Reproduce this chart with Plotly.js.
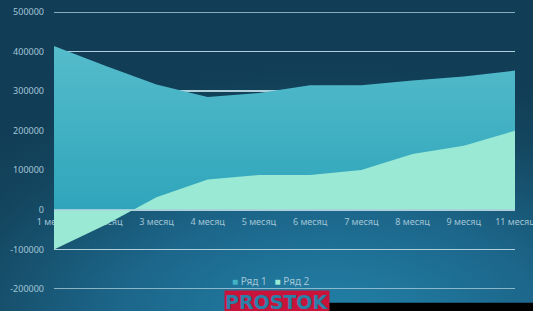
<!DOCTYPE html>
<html>
<head>
<meta charset="utf-8">
<script src="https://cdn.plot.ly/plotly-3.0.1.min.js"></script>
<style>
html, body { margin:0; padding:0; width:533px; height:311px; overflow:hidden;
  background: radial-gradient(ellipse 90% 85% at 62% 105%, #2383aa 0%, #1c668a 45%, #14465f 80%, #113d56 100%); }
#chart { width:533px; height:311px; }
</style>
</head>
<body>
<div id="chart"></div>
<script>
const categories = ["1 месяц","2 месяц","3 месяц","4 месяц","5 месяц","6 месяц","7 месяц","8 месяц","9 месяц","11 месяц"];
const series1 = [414000, 364000, 317000, 285000, 295000, 315000, 315000, 327000, 337000, 352000];
const series2 = [-100000, -38000, 32000, 77000, 88000, 88000, 101000, 141000, 162000, 200000];
const seriesNames = ["Ряд 1", "Ряд 2"];
const yTickVals = [-200000, -100000, 0, 100000, 200000, 300000, 400000, 500000];
const yTickText = ["-200000", "-100000", "0", "100000", "200000", "300000", "400000", "500000"];

const labelColor = "#a2c6d6";
const gridColor = "#b0d0dc";
const seriesColors = ["#43b4c6", "#9ae9d4"];

const traces = [
  {
    type: "scatter", mode: "none", name: seriesNames[0], showlegend: false,
    x: categories, y: series1, fill: "tozeroy",
    fillcolor: seriesColors[0],
    fillgradient: { type: "vertical", colorscale: [[0, "#2fa5bb"], [1, "#55bccb"]] }
  },
  {
    type: "scatter", mode: "none", name: seriesNames[1], showlegend: false,
    x: categories, y: series2, fill: "tozeroy",
    fillcolor: seriesColors[1]
  }
];

// legend drawn as a single text line with coloured squares
const legendText = seriesNames.map((n, i) =>
  '<span style="color:' + seriesColors[i] + '">■</span> ' + n).join('   ');

const layout = {
  width: 533, height: 311,
  margin: { l: 54, r: 18, t: 12, b: 22, pad: 0 },
  paper_bgcolor: "rgba(0,0,0,0)",
  plot_bgcolor: "rgba(0,0,0,0)",
  font: { family: "Noto Sans, sans-serif", size: 9, color: labelColor },
  showlegend: false,
  xaxis: {
    type: "category", range: [0, 9],
    anchor: "free", position: 2 / 7,
    showgrid: false, zeroline: false, showline: false,
    ticks: "inside", ticklen: 3, tickcolor: gridColor, tickwidth: 1,
    ticklabelstandoff: 5,
    tickfont: { size: 9, color: labelColor },
    layer: "below traces", fixedrange: true
  },
  yaxis: {
    range: [-200000, 500000],
    tickvals: yTickVals, ticktext: yTickText,
    showgrid: true, gridcolor: gridColor, gridwidth: 1.4,
    zeroline: false, showline: false, ticks: "",
    ticklabelstandoff: 9,
    tickfont: { size: 9, color: labelColor }, fixedrange: true
  },
  shapes: [
    { type: "line", xref: "paper", x0: 0, x1: 1, yref: "y", y0: 0, y1: 0,
      line: { color: gridColor, width: 1.4 }, layer: "above" },
    { type: "line", xref: "paper", x0: 0, x1: 1, yref: "y", y0: 500000, y1: 500000,
      line: { color: gridColor, width: 1.4 }, layer: "below" },
    { type: "line", xref: "paper", x0: 0, x1: 1, yref: "y", y0: -200000, y1: -200000,
      line: { color: gridColor, width: 1.4 }, layer: "below" },
    { type: "rect", xref: "paper", yref: "paper", x0: 0.57, x1: 1.05, y0: -0.08, y1: -0.05,
      fillcolor: "#000000", line: { width: 0 }, layer: "above" }
  ],
  annotations: [
    { text: legendText, xref: "paper", yref: "paper", x: 0.471, y: 0.03,
      xanchor: "center", yanchor: "middle", showarrow: false,
      font: { size: 10, color: labelColor } },
    { text: "<b>PROSTOK</b>", xref: "paper", yref: "paper", x: 0.483, y: -0.005,
      xanchor: "center", yanchor: "top", showarrow: false,
      font: { family: "DejaVu Sans, sans-serif", size: 19, color: "#2c7fa6" },
      bgcolor: "#c8143a", borderpad: 0 }
  ]
};

Plotly.newPlot("chart", traces, layout, { displayModeBar: false, staticPlot: true });
</script>
</body>
</html>
